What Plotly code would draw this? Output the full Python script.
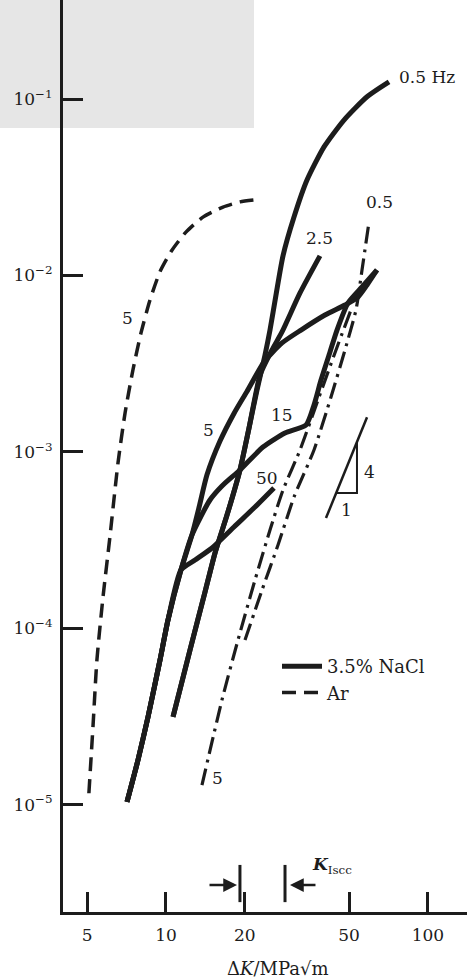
import numpy as np
import plotly.graph_objects as go

# ---------------- data ----------------
# Ar, 5 Hz (dashed)
ar5_dK = [5.08, 5.27, 5.45, 5.75, 6.11, 6.56, 6.98, 7.48, 8.03, 8.69, 9.49, 10.54, 11.92, 13.84, 16.51, 19.16, 21.87]
ar5_rate = [1.16e-5, 2.83e-5, 6.60e-5, 1.50e-4, 3.29e-4, 8.64e-4, 1.66e-3, 2.91e-3, 4.72e-3, 7.25e-3,
            1.05e-2, 1.39e-2, 1.76e-2, 2.14e-2, 2.44e-2, 2.61e-2, 2.68e-2]

# 3.5% NaCl, 0.5 Hz
nacl05_dK = [10.64, 12.35, 14.09, 15.39, 17.10, 19.16, 20.74, 22.26, 23.88, 24.95, 26.30, 27.97, 30.81, 34.54,
             40.11, 47.81, 58.53, 71.02]
nacl05_rate = [3.14e-5, 7.52e-5, 1.60e-4, 2.67e-4, 4.38e-4, 7.88e-4, 1.36e-3, 2.24e-3, 3.54e-3, 4.90e-3,
               7.74e-3, 1.29e-2, 2.14e-2, 3.47e-2, 5.35e-2, 7.60e-2, 1.03e-1, 1.25e-1]

# 3.5% NaCl, 2.5 Hz
nacl25_dK = [10.64, 12.35, 14.09, 15.39, 17.10, 19.16, 20.74, 22.86, 25.39, 27.73, 32.48, 38.71]
nacl25_rate = [3.14e-5, 7.52e-5, 1.60e-4, 2.67e-4, 4.38e-4, 7.88e-4, 1.36e-3, 2.72e-3, 3.78e-3, 4.78e-3,
               7.95e-3, 1.29e-2]

# 3.5% NaCl, 5 Hz
nacl5_dK = [7.10, 7.82, 8.54, 9.49, 10.18, 11.41, 12.57, 13.40, 14.34, 16.08, 18.18, 20.38, 23.67, 27.73,
            32.77, 40.46, 48.23, 54.07, 58.53, 63.88]
nacl5_rate = [1.035e-5, 1.79e-5, 3.14e-5, 6.60e-5, 1.113e-4, 2.14e-4, 3.38e-4, 4.90e-4, 7.40e-4, 1.15e-3,
              1.65e-3, 2.20e-3, 3.23e-3, 4.14e-3, 4.90e-3, 5.96e-3, 6.80e-3, 7.54e-3, 8.82e-3, 1.073e-2]

# 3.5% NaCl, 15 Hz
nacl15_dK = [7.10, 7.82, 8.54, 9.49, 10.18, 11.41, 12.57, 14.72, 16.36, 19.16, 23.46, 28.47, 34.24, 36.73,
             39.06, 42.28, 44.96, 49.53, 56.01, 63.88]
nacl15_rate = [1.035e-5, 1.79e-5, 3.14e-5, 6.60e-5, 1.113e-4, 2.14e-4, 3.38e-4, 5.33e-4, 6.40e-4, 7.88e-4,
               1.064e-3, 1.278e-3, 1.418e-3, 1.842e-3, 2.55e-3, 3.68e-3, 4.90e-3, 6.98e-3, 8.60e-3, 1.073e-2]

# 3.5% NaCl, 50 Hz
nacl50_dK = [7.10, 7.82, 8.54, 9.49, 10.18, 11.41, 12.91, 14.99, 18.18, 21.87, 25.84]
nacl50_rate = [1.035e-5, 1.79e-5, 3.14e-5, 6.60e-5, 1.113e-4, 2.14e-4, 2.435e-4, 2.85e-4, 3.75e-4,
               4.86e-4, 6.23e-4]

# dash-dot reference lines labelled 5 and 0.5
dd5_dK = [13.72, 16.36, 18.83, 21.87, 24.95, 27.97, 32.48, 38.04, 44.57, 50.83]
dd5_rate = [1.29e-5, 3.92e-5, 8.57e-5, 1.876e-4, 3.60e-4, 6.07e-4, 1.024e-3, 1.966e-3, 3.78e-3, 6.37e-3]
dd05_dK = [20.03, 23.26, 26.77, 30.81, 36.73, 42.65, 48.23, 53.12, 56.01, 59.56]
dd05_rate = [8.57e-5, 1.646e-4, 2.96e-4, 5.54e-4, 1.024e-3, 2.045e-3, 3.78e-3, 6.37e-3, 1.073e-2, 2.008e-2]

# slope triangle (4 : 1)
slope_dK = [40.81, 58.53]
slope_rate = [4.21e-4, 1.57e-3]
tri_dK = [44.57, 53.59, 53.59]
tri_rate = [5.84e-4, 5.84e-4, 1.14e-3]

# K_Iscc band limits
kiscc_lo = 19.16
kiscc_hi = 28.47
kiscc_bar_rate = [2.80e-6, 4.55e-6]
kiscc_arrow_rate = 3.50e-6

x_ticks = [5, 10, 20, 50, 100]
x_ticktext = ["5", "10", "20", "50", "100"]
y_ticks = [1e-5, 1e-4, 1e-3, 1e-2, 1e-1]
y_ticktext = ["10<sup>−5</sup>", "10<sup>−4</sup>", "10<sup>−3</sup>", "10<sup>−2</sup>", "10<sup>−1</sup>"]

# ---------------- figure ----------------
FONT = "DejaVu Serif"
INK = "#1c1c1c"
W, H = 468, 978
ML, MR, MT, MB = 63, 1, 0, 66

fig = go.Figure()

solid = dict(color=INK, width=5, shape="spline", smoothing=0.6)
for i, (xx, yy) in enumerate([(nacl5_dK, nacl5_rate), (nacl15_dK, nacl15_rate), (nacl50_dK, nacl50_rate),
                              (nacl25_dK, nacl25_rate), (nacl05_dK, nacl05_rate)]):
    fig.add_trace(go.Scatter(x=xx, y=yy, mode="lines", line=solid, name="3.5% NaCl",
                             legendgroup="nacl", showlegend=(i == 0), hoverinfo="skip"))

fig.add_trace(go.Scatter(x=ar5_dK, y=ar5_rate, mode="lines", name="Ar",
                         line=dict(color=INK, width=3.5, dash="14px,8px", shape="spline", smoothing=0.6),
                         hoverinfo="skip"))

for xx, yy in [(dd5_dK, dd5_rate), (dd05_dK, dd05_rate)]:
    fig.add_trace(go.Scatter(x=xx, y=yy, mode="lines", showlegend=False, hoverinfo="skip",
                             line=dict(color=INK, width=3.2, dash="17px,6px,3px,6px",
                                       shape="spline", smoothing=0.6)))

# slope triangle
fig.add_trace(go.Scatter(x=slope_dK, y=slope_rate, mode="lines", showlegend=False, hoverinfo="skip",
                         line=dict(color=INK, width=2.5)))
fig.add_trace(go.Scatter(x=tri_dK, y=tri_rate, mode="lines", showlegend=False, hoverinfo="skip",
                         line=dict(color=INK, width=2)))

# K_Iscc bars
for k in (kiscc_lo, kiscc_hi):
    fig.add_trace(go.Scatter(x=[k, k], y=kiscc_bar_rate, mode="lines", showlegend=False, hoverinfo="skip",
                             line=dict(color=INK, width=3)))

lg = np.log10
ann = []
def label(text, x, y, size=17, xanchor="center", **kw):
    ann.append(dict(text=text, x=lg(x), y=lg(y), xref="x", yref="y", showarrow=False,
                    xanchor=xanchor, yanchor="middle", font=dict(family=FONT, size=size, color=INK), **kw))

label("0.5 Hz", 76.2, 0.133, xanchor="left")
label("0.5", 65.6, 0.0261)
label("2.5", 38.7, 0.0163)
label("5", 7.10, 0.00574)
label("5", 14.47, 0.00133)
label("15", 27.73, 0.00162)
label("50", 24.30, 7.10e-4)
label("5", 15.66, 1.42e-5)
label("4", 59.56, 7.68e-4)
label("1", 48.66, 4.68e-4)
label("<b><i>K</i></b><sub>Iscc</sub>", 35.45, 4.49e-6, xanchor="left")

# arrows toward the K_Iscc bars
for head, off in ((18.67, -29), (29.74, 27)):
    ann.append(dict(x=lg(head), y=lg(kiscc_arrow_rate), xref="x", yref="y", ax=off, ay=0, text="",
                    showarrow=True, arrowhead=2, arrowsize=1.1, arrowwidth=2.5, arrowcolor=INK))

# axis title
ann.append(dict(text="Δ<i>K</i>/MPa√m", x=(278 - ML) / (W - ML - MR), y=-(968 - 912) / 912,
                xref="paper", yref="paper", showarrow=False, xanchor="center", yanchor="middle",
                font=dict(family=FONT, size=18, color=INK)))

fig.update_layout(
    width=W, height=H,
    margin=dict(l=ML, r=MR, t=MT, b=MB, pad=0),
    paper_bgcolor="white", plot_bgcolor="rgba(0,0,0,0)",
    font=dict(family=FONT, size=17, color=INK),
    annotations=ann,
    shapes=[dict(type="rect", xref="paper", yref="paper", x0=-0.2, x1=(254 - ML) / (W - ML - MR),
                 y0=(912 - 128) / 912, y1=1.0, fillcolor="#e6e6e6", line=dict(width=0), layer="below")],
    legend=dict(x=(277 - ML) / (W - ML - MR), y=(912 - 648) / 912, xanchor="left", yanchor="top",
                bgcolor="rgba(0,0,0,0)", font=dict(family=FONT, size=18, color=INK),
                tracegroupgap=0, itemwidth=40),
    showlegend=True,
    hovermode=False,
)
fig.update_xaxes(type="log", range=[0.6070, 2.1490], showgrid=False, zeroline=False,
                 showline=True, linecolor=INK, linewidth=3,
                 tickvals=x_ticks, ticktext=x_ticktext, ticks="inside", ticklen=20, tickwidth=3,
                 tickcolor=INK, ticklabelstandoff=6, tickfont=dict(family=FONT, size=17, color=INK),
                 automargin=False)
fig.update_yaxes(type="log", range=[-5.6088, -0.4388], showgrid=False, zeroline=False,
                 showline=True, linecolor=INK, linewidth=3,
                 tickvals=y_ticks, ticktext=y_ticktext, ticks="inside", ticklen=20, tickwidth=3,
                 tickcolor=INK, ticklabelstandoff=4, tickfont=dict(family=FONT, size=17, color=INK),
                 automargin=False)

fig.write_html("out.html", config={"displayModeBar": False, "staticPlot": True},
               post_script="document.body.style.margin='0px';")
